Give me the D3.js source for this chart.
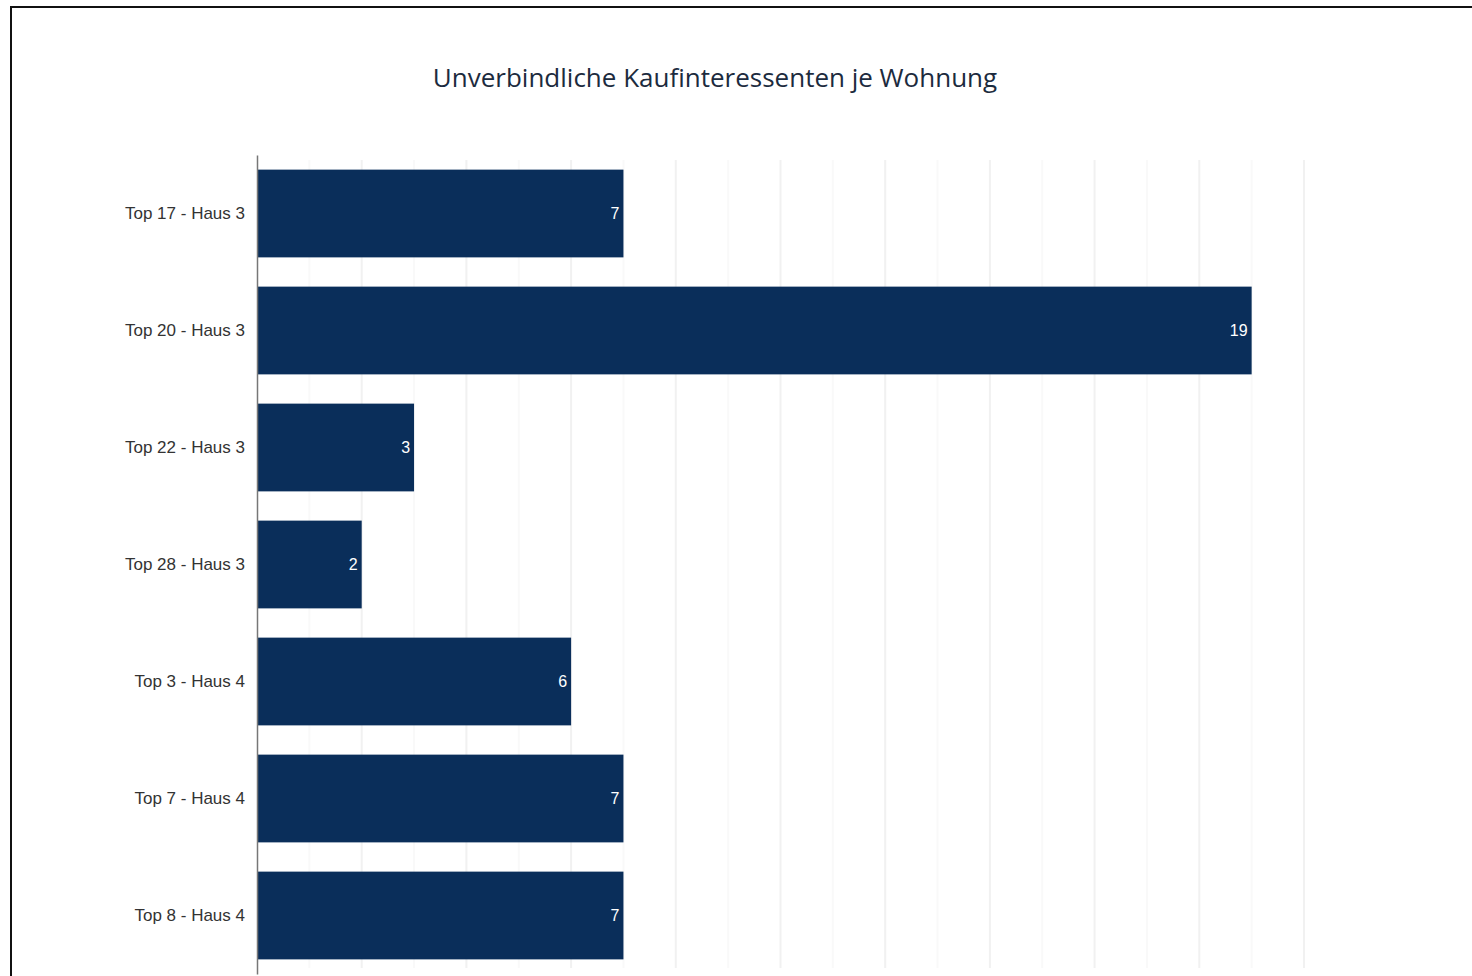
<!DOCTYPE html>
<html>
<head>
<meta charset="utf-8">
<script src="https://cdn.jsdelivr.net/npm/d3@7"></script>
<style>
  body { margin: 0; background: #fff; overflow: hidden; }
  .y_label text { font-family: "Liberation Sans", Arial, sans-serif; font-size: 17px; fill: #333; }
  .bar_value { font-family: "Liberation Sans", Arial, sans-serif; font-size: 16px; fill: #fff; }
  .chart_title { font-family: "Open Sans", sans-serif; font-size: 26px; fill: #1c2b3e; }
</style>
</head>
<body>
<div id="chart"></div>
<script>
// data
var categories = ['Top 17 - Haus 3', 'Top 20 - Haus 3', 'Top 22 - Haus 3', 'Top 28 - Haus 3', 'Top 3 - Haus 4', 'Top 7 - Haus 4', 'Top 8 - Haus 4'];
var values = [7, 19, 3, 2, 6, 7, 7];
var x_ticks = d3.range(0, 21, 1);
var title = 'Unverbindliche Kaufinteressenten je Wohnung';

var width = 1472, height = 976;
var svg = d3.select('#chart').append('svg').attr('width', width).attr('height', height);

// outer frame (runs off the right and bottom edge like the screenshot)
svg.append('rect').attr('x', 11).attr('y', 7).attr('width', width).attr('height', height)
    .attr('fill', 'none').attr('stroke', '#111').attr('stroke-width', 2);

svg.append('text').attr('class', 'chart_title').attr('x', 715).attr('y', 87)
    .attr('text-anchor', 'middle').text(title);

var x_scale = d3.scaleLinear().domain([0, 20]).range([257, 1304]);
var y_scale = d3.scaleBand().domain(categories).range([155, 974]).paddingInner(0.25).paddingOuter(0.125);

// faint vertical grid, even values a bit darker
svg.append('g').selectAll('line').data(x_ticks.slice(1)).join('line')
    .attr('x1', d => x_scale(d)).attr('x2', d => x_scale(d))
    .attr('y1', 160).attr('y2', 968)
    .attr('stroke', d => d % 2 == 0 ? '#f1f1f1' : '#f9f9f9').attr('stroke-width', 2);

var bars = svg.append('g');
bars.selectAll('rect').data(values).join('rect')
    .attr('x', x_scale(0))
    .attr('y', (d, i) => y_scale(categories[i]))
    .attr('width', d => x_scale(d) - x_scale(0))
    .attr('height', y_scale.bandwidth())
    .attr('fill', '#0a2e5a');

bars.selectAll('text').data(values).join('text').attr('class', 'bar_value')
    .attr('x', d => x_scale(d) - 4)
    .attr('y', (d, i) => y_scale(categories[i]) + y_scale.bandwidth() / 2)
    .attr('dy', '0.35em').attr('text-anchor', 'end')
    .text(d => d);

var y_axis = svg.append('g').attr('class', 'y_label').attr('transform', 'translate(257,0)')
    .call(d3.axisLeft(y_scale).tickSize(0).tickPadding(12));
y_axis.select('.domain').attr('stroke', '#777').attr('stroke-width', 1.5);
</script>
</body>
</html>
